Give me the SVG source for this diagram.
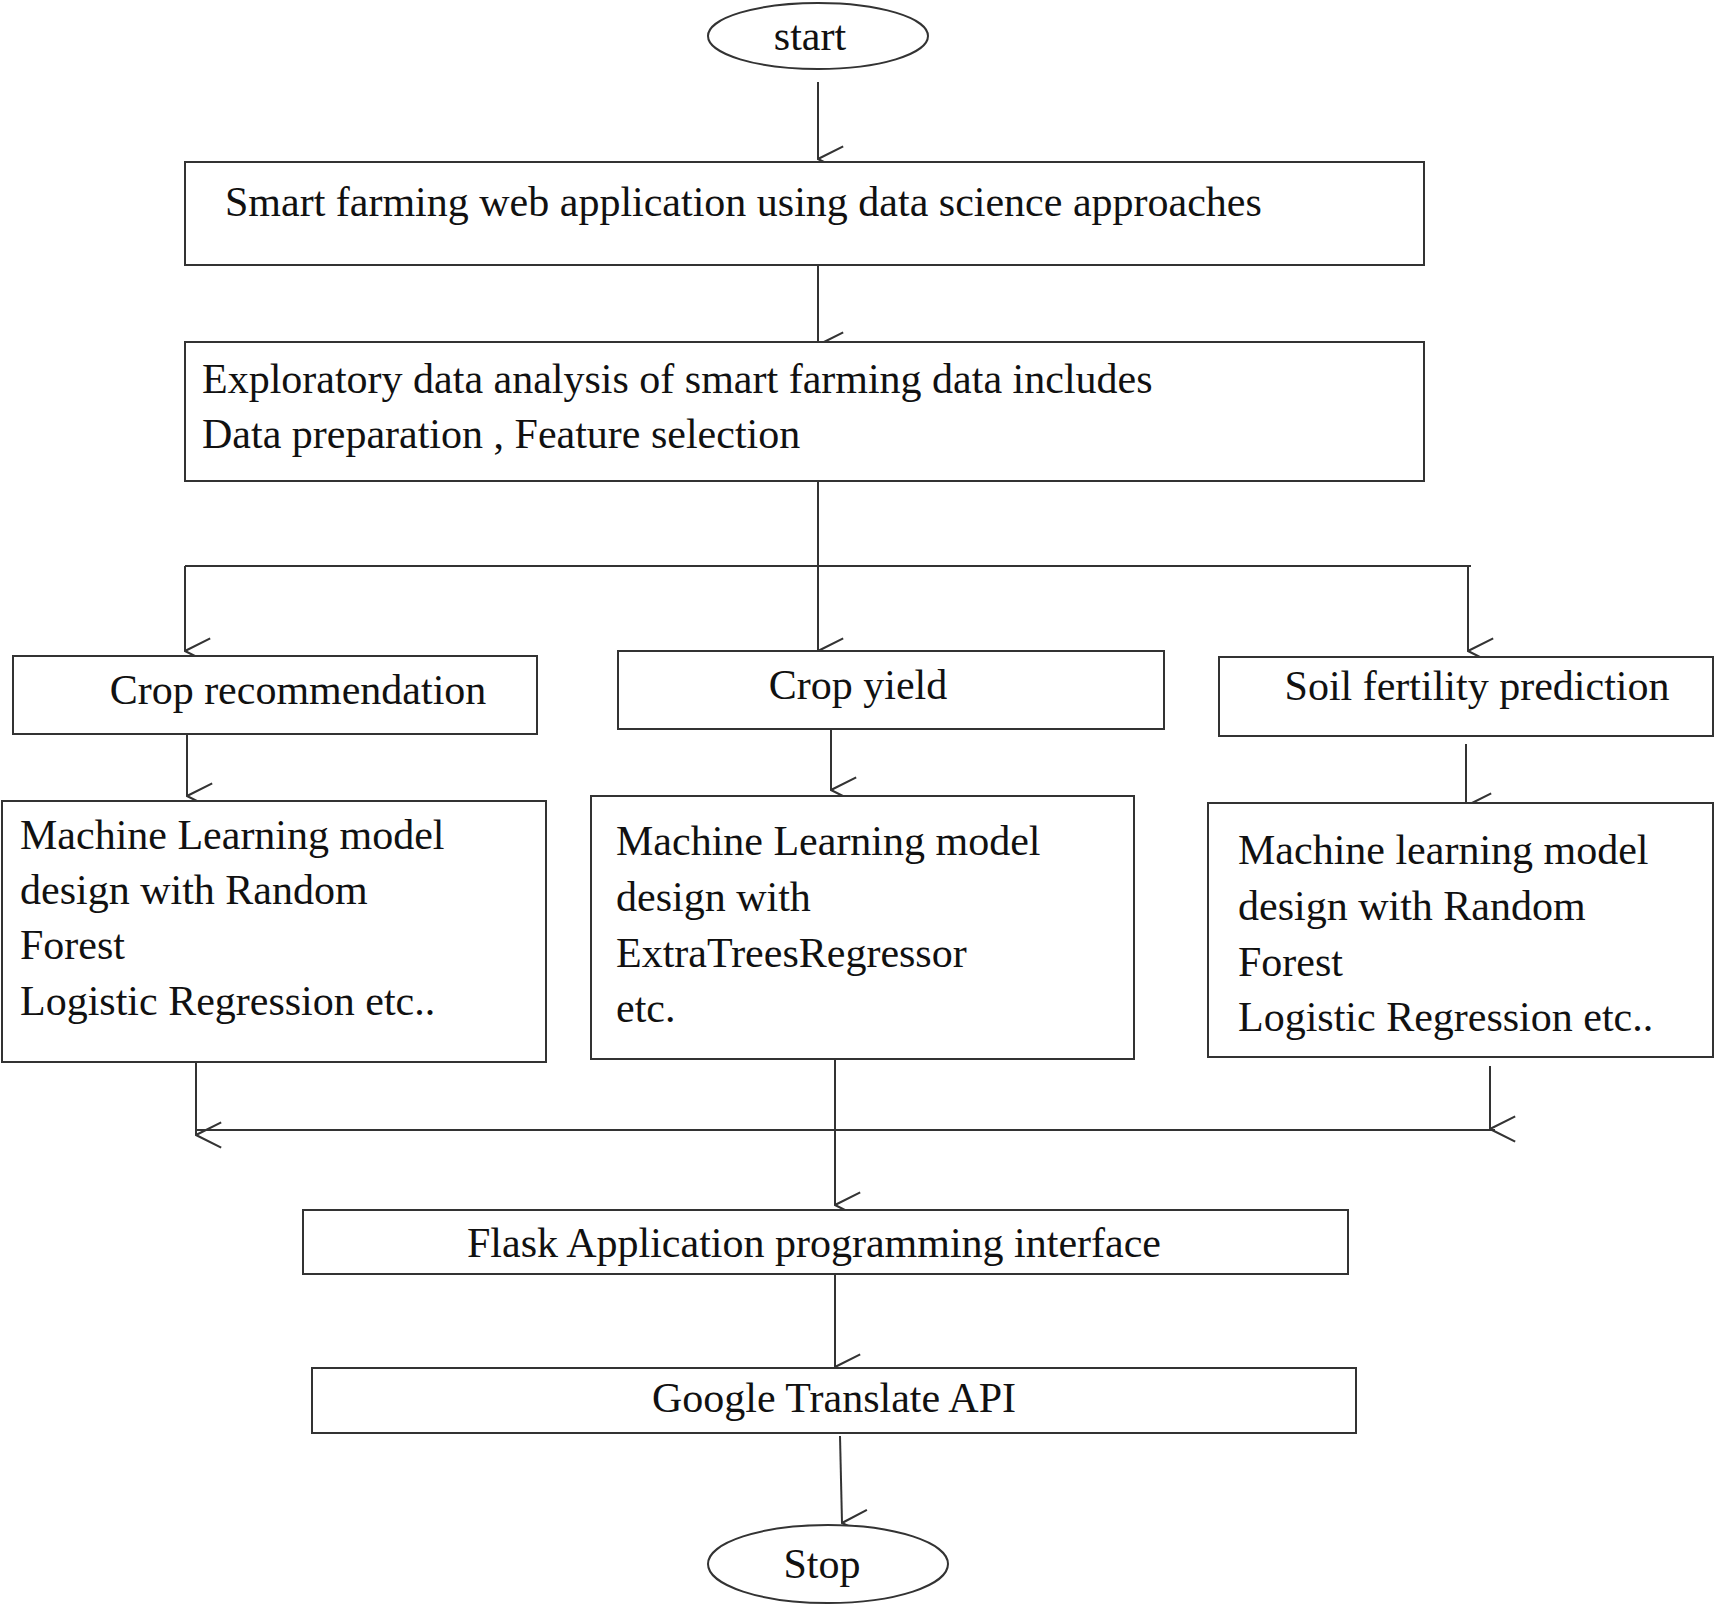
<svg xmlns="http://www.w3.org/2000/svg" width="1715" height="1604" viewBox="0 0 1715 1604">
<style>
.b{fill:#fff;stroke:#333;stroke-width:2}
.c{fill:none;stroke:#333;stroke-width:2}
text{font-family:"Liberation Serif","Times New Roman",serif;font-size:42px;fill:#111}
.m{text-anchor:middle}
</style>
<defs><marker id="a" viewBox="0 0 20 20" refX="10" refY="19" markerWidth="28" markerHeight="28" markerUnits="userSpaceOnUse" orient="auto-start-reverse"><path d="M1,1 L10,19 L19,1" fill="none" stroke="#333" stroke-width="1.5"/></marker></defs>
<rect width="1715" height="1604" fill="#fff"/>
<g id="connectors" class="c">
<line x1="818" y1="82" x2="818" y2="159" marker-end="url(#a)"/>
<line x1="818" y1="260" x2="818" y2="345" marker-end="url(#a)"/>
<line x1="818" y1="481" x2="818" y2="651" marker-end="url(#a)"/>
<line x1="185" y1="566" x2="1471" y2="566"/>
<line x1="185" y1="566" x2="185" y2="651" marker-end="url(#a)"/>
<line x1="1468" y1="566" x2="1468" y2="651" marker-end="url(#a)"/>
<line x1="187" y1="734" x2="187" y2="796" marker-end="url(#a)"/>
<line x1="831" y1="729" x2="831" y2="790" marker-end="url(#a)"/>
<line x1="1466" y1="744" x2="1466" y2="806" marker-end="url(#a)"/>
<line x1="196" y1="1062" x2="196" y2="1135" marker-end="url(#a)"/>
<line x1="1490" y1="1066" x2="1490" y2="1129" marker-end="url(#a)"/>
<line x1="196" y1="1130" x2="1495" y2="1130"/>
<line x1="835" y1="1059" x2="835" y2="1205" marker-end="url(#a)"/>
<line x1="835" y1="1274" x2="835" y2="1367" marker-end="url(#a)"/>
<line x1="840" y1="1436" x2="842" y2="1523" marker-end="url(#a)"/>
</g>
<g id="start"><ellipse class="b" cx="818" cy="36" rx="110" ry="33"/><text class="m" x="810" y="50">start</text></g>
<g id="n1"><rect class="b" x="185" y="162" width="1239" height="103"/><text x="225" y="216">Smart farming web application using data science approaches</text></g>
<g id="n2"><rect class="b" x="185" y="342" width="1239" height="139"/><text x="202" y="393">Exploratory data analysis of smart farming data includes</text><text x="202" y="448">Data preparation , Feature selection</text></g>
<g id="n3"><rect class="b" x="13" y="656" width="524" height="78"/><text class="m" x="298" y="704">Crop recommendation</text></g>
<g id="n4"><rect class="b" x="618" y="651" width="546" height="78"/><text class="m" x="858" y="699">Crop yield</text></g>
<g id="n5"><rect class="b" x="1219" y="657" width="494" height="79"/><text class="m" x="1477" y="700">Soil fertility prediction</text></g>
<g id="n6"><rect class="b" x="2" y="801" width="544" height="261"/><text x="20" y="849">Machine Learning model</text><text x="20" y="904">design with  Random</text><text x="20" y="959">Forest</text><text x="20" y="1015">Logistic  Regression etc..</text></g>
<g id="n7"><rect class="b" x="591" y="796" width="543" height="263"/><text x="616" y="855">Machine Learning model</text><text x="616" y="911">design with</text><text x="616" y="967">ExtraTreesRegressor</text><text x="616" y="1022">etc.</text></g>
<g id="n8"><rect class="b" x="1208" y="803" width="505" height="254"/><text x="1238" y="864">Machine learning model</text><text x="1238" y="920">design with Random</text><text x="1238" y="976">Forest</text><text x="1238" y="1031">Logistic  Regression etc..</text></g>
<g id="n9"><rect class="b" x="303" y="1210" width="1045" height="64"/><text class="m" x="814" y="1257">Flask Application programming interface</text></g>
<g id="n10"><rect class="b" x="312" y="1368" width="1044" height="65"/><text class="m" x="834" y="1412">Google Translate API</text></g>
<g id="stop"><ellipse class="b" cx="828" cy="1564" rx="120" ry="39"/><text class="m" x="822" y="1578">Stop</text></g>
</svg>
